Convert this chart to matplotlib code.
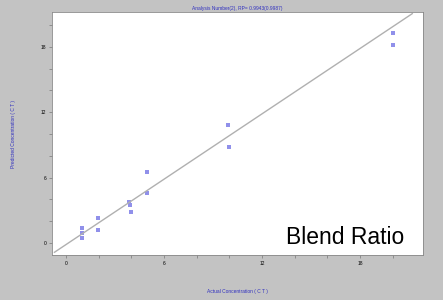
import matplotlib
matplotlib.use("Agg")
import matplotlib.pyplot as plt
from matplotlib.ticker import MultipleLocator

# actual vs predicted concentration
actual = [0.98, 0.98, 0.98, 1.96, 1.96, 4.96, 4.96, 3.86, 3.9, 3.98, 9.92, 9.98, 20.02, 20.02]
predicted = [1.38, 0.92, 0.46, 2.29, 1.19, 6.51, 4.59, 3.76, 3.5, 2.84, 10.83, 8.81, 19.27, 18.17]

# reference line end points
line_x = [-0.7, 21.2]
line_y = [-0.85, 21.05]

plt.rcParams['font.family'] = ['Liberation Sans', 'DejaVu Sans']

fig = plt.figure(figsize=(4.43, 3.0), dpi=100, facecolor='#c3c3c3')
ax = fig.add_axes([0.117, 0.15, 0.838, 0.81])
ax.set_facecolor('white')

ax.plot(line_x, line_y, color='#b0b0b0', lw=1.0)
ax.scatter(actual, predicted, s=5, marker='s', color='#9090ea', lw=0)

ax.set_xlim(-0.86, 21.86)
ax.set_ylim(-1.1, 21.2)
ax.xaxis.set_major_locator(MultipleLocator(6))
ax.xaxis.set_minor_locator(MultipleLocator(2))
ax.yaxis.set_major_locator(MultipleLocator(6))
ax.yaxis.set_minor_locator(MultipleLocator(2))
ax.tick_params(which='both', labelsize=3.5, length=2, width=0.5, color='#777777', pad=2)
for s in ax.spines.values():
    s.set_color('#888888')
    s.set_linewidth(0.6)

ax.set_xlabel('Actual Concentration ( C T )', fontsize=3.5, color='#3030c0', labelpad=17)
ax.set_ylabel('Predicted Concentration ( C T )', fontsize=3.5, color='#3030c0', labelpad=18)
fig.text(0.535, 0.972, 'Analysis Number(2), RP= 0.9943(0.9987)', fontsize=3.5,
         color='#3030c0', ha='center', va='center')

ax.text(0.79, 0.07, 'Blend Ratio', transform=ax.transAxes, fontsize=16.5,
        ha='center', va='center', color='black')

fig.savefig('out.png', dpi=100, facecolor=fig.get_facecolor())
